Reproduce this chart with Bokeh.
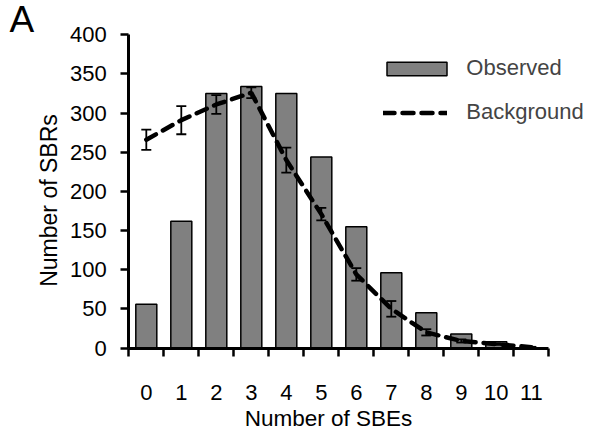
import math
from bokeh.plotting import figure
from bokeh.models import (ColumnDataSource, Range1d, FixedTicker, Whisker, TeeHead,
                          Legend, LegendItem, Label)
from bokeh.embed import file_html
from bokeh.resources import INLINE

# ---- data ----
categories = [0, 1, 2, 3, 4, 5, 6, 7, 8, 9, 10, 11]
observed = [56, 162, 325, 334, 325, 244, 155, 96, 45, 18, 8, 0]
background = [266, 291, 311, 326, 240, 171, 94, 50, 20, 9, 5, 1]
background_err = [13, 18, 12, 7, 16, 8, 8, 10, 4, 2, 1, 0.5]
y_ticks = [0, 50, 100, 150, 200, 250, 300, 350, 400]

FONT = "Liberation Sans"
FS = "22px"

src = ColumnDataSource(dict(
    x=categories,
    obs=observed,
    bg=background,
    lo=[b - e for b, e in zip(background, background_err)],
    hi=[b + e for b, e in zip(background, background_err)],
))

x_lo = categories[0] - 0.5
x_hi = categories[-1] + 0.5
y_lo, y_hi = y_ticks[0], y_ticks[-1]

# frame covers the whole canvas; axes are drawn at fixed data locations
p = figure(width=589, height=432, output_backend="svg", toolbar_location=None,
           x_range=Range1d(x_lo - 3.666, x_hi + 1.163),
           y_range=Range1d(y_lo - 107.9, y_hi + 43.8),
           min_border=0)
p.outline_line_color = None
p.xgrid.grid_line_color = None
p.ygrid.grid_line_color = None
p.background_fill_color = "white"
p.border_fill_color = "white"

bars = p.vbar(x="x", top="obs", width=0.6, source=src, fill_color="#808080",
              line_color="black", line_width=1.5)
line = p.line(x="x", y="bg", source=src, line_color="black", line_width=4.5,
              line_dash="11 8", line_cap="round")
wh = Whisker(base="x", upper="hi", lower="lo", source=src, line_color="black", line_width=1.8,
             upper_head=TeeHead(size=10, line_width=1.8, line_color="black"),
             lower_head=TeeHead(size=10, line_width=1.8, line_color="black"),
             level="overlay")
p.add_layout(wh)

# axes
xa = p.xaxis[0]
xa.fixed_location = y_lo
xa.bounds = (x_lo, x_hi)
xa.ticker = FixedTicker(ticks=categories, minor_ticks=[c - 0.5 for c in categories] + [x_hi])
xa.major_tick_out = 0
xa.major_tick_in = 0
xa.minor_tick_out = 8
xa.minor_tick_in = 0
xa.minor_tick_line_width = 2.5
xa.minor_tick_line_color = "black"
xa.axis_line_width = 3
xa.axis_line_color = "black"
xa.major_label_standoff = 29

ya = p.yaxis[0]
ya.fixed_location = x_lo
ya.bounds = (y_lo, y_hi)
ya.ticker = FixedTicker(ticks=y_ticks)
ya.major_tick_out = 8
ya.major_tick_in = 0
ya.minor_tick_out = 0
ya.minor_tick_in = 0
ya.major_tick_line_width = 2.5
ya.axis_line_width = 3
ya.axis_line_color = "black"
ya.major_label_standoff = 14

for ax in (xa, ya):
    ax.major_label_text_font = FONT
    ax.major_label_text_font_size = FS
    ax.major_label_text_color = "black"

# axis titles and panel letter
p.add_layout(Label(x=328, y=14, x_units="screen", y_units="screen", text="Number of SBEs",
                   text_font=FONT, text_font_size="22.5px", text_color="black",
                   text_align="center", text_baseline="alphabetic"))
p.add_layout(Label(x=48, y=232, x_units="screen", y_units="screen", text="Number of SBRs",
                   angle=math.pi / 2, text_font=FONT, text_font_size="23px", text_color="black",
                   text_align="center", text_baseline="alphabetic"))
p.add_layout(Label(x=9, y=413, x_units="screen", y_units="screen", text="A",
                   text_font=FONT, text_font_size="37px", text_color="black",
                   text_align="left", text_baseline="alphabetic"))

# legends
leg1 = Legend(items=[LegendItem(label="Observed", renderers=[bars])],
              location=(379.3, 351), glyph_width=75, glyph_height=17, label_standoff=12,
              padding=0, margin=0, border_line_color=None, background_fill_alpha=0,
              label_text_font=FONT, label_text_font_size=FS)
leg2 = Legend(items=[LegendItem(label="Background", renderers=[line])],
              location=(383.3, 307), glyph_width=64, glyph_height=17, label_standoff=19,
              padding=0, margin=0, border_line_color=None, background_fill_alpha=0,
              label_text_font=FONT, label_text_font_size=FS)
p.add_layout(leg1, "center")
p.add_layout(leg2, "center")

open("out.html", "w").write(file_html(p, INLINE))
